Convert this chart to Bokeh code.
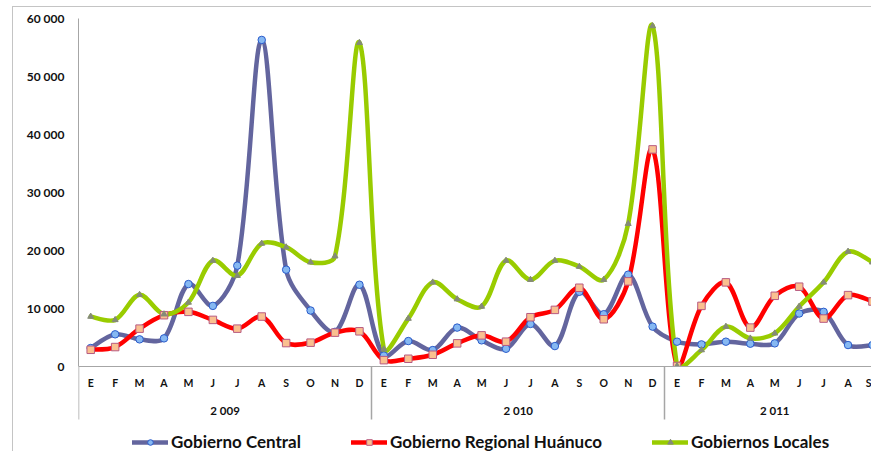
import numpy as np
from bokeh.plotting import figure
from bokeh.models import (Range1d, LinearAxis, FixedTicker, Legend, LegendItem,
                          ColumnDataSource, BoxAnnotation)
from bokeh.embed import file_html
from bokeh.resources import INLINE

# ---------------- data ----------------
months = ["E", "F", "M", "A", "M", "J", "J", "A", "S", "O", "N", "D",
          "E", "F", "M", "A", "M", "J", "J", "A", "S", "O", "N", "D",
          "E", "F", "M", "A", "M", "J", "J", "A", "S"]
years = ["2 009", "2 010", "2 011"]
months_per_year = [12, 12, 9]

y_ticks = [0, 10000, 20000, 30000, 40000, 50000, 60000]
y_tick_labels = ["0", "10 000", "20 000", "30 000", "40 000", "50 000", "60 000"]

series_names = ["Gobierno Central", "Gobierno Regional Huánuco", "Gobiernos Locales"]

gobierno_central = [3100, 5470, 4600, 4770, 14150, 10380, 17330, 56300, 16630, 9580, 5900, 14030,
                    1800, 4310, 2750, 6630, 4430, 2980, 7260, 3440, 12810, 8940, 15770, 6800,
                    4200, 3730, 4200, 3850, 3910, 9060, 9350, 3620, 3620]
gobierno_regional = [2800, 3270, 6450, 8770, 9350, 7960, 6450, 8540, 3960, 4030, 5760, 5990,
                     1010, 1250, 1940, 3910, 5290, 4200, 8420, 9690, 13510, 8070, 14610, 37400,
                     0, 10380, 14440, 6630, 12120, 13690, 8190, 12240, 11140]
gobiernos_locales = [8540, 7960, 12300, 8940, 10970, 18200, 15590, 21150, 20510, 17910, 18950, 55800,
                     2900, 8190, 14440, 11540, 10270, 18200, 14900, 18200, 17160, 14900, 24560, 58700,
                     0, 2750, 6800, 4770, 5640, 10270, 14440, 19760, 17910]

# ---------------- layout constants ----------------
FONT = "Lato"
GRAY = "#A6A6A6"
W, H = 859, 445
LEFT, TOP = 65, 11
PLOT_H = 347.5          # pixels between 0 and 60 000
Y_MAX = 60000
frame_h = H - TOP
y_min = -Y_MAX * (frame_h - PLOT_H) / PLOT_H   # room below zero for the category axis and legend
px_x = 24.43            # pixels per month
X_MIN = -0.5
frame_w = W - LEFT
X_MAX = X_MIN + frame_w / px_x
px_y = PLOT_H / Y_MAX

n = len(months)
xs = np.arange(n, dtype=float)

p = figure(width=W, height=H,
           x_range=Range1d(X_MIN, X_MAX), y_range=Range1d(y_min, Y_MAX),
           output_backend="svg", toolbar_location=None,
           x_axis_location=None, y_axis_location="left",
           min_border_left=LEFT, min_border_right=0, min_border_top=TOP, min_border_bottom=0)
p.margin = (6, 0, 0, 12)
p.styles = {"border-top": "1px solid #C4C4C4", "border-left": "1px solid #C4C4C4"}
p.outline_line_color = None
p.xgrid.visible = False
p.ygrid.visible = False
p.background_fill_color = "white"
p.border_fill_color = "white"

# y axis
ya = p.yaxis[0]
ya.ticker = FixedTicker(ticks=y_ticks, minor_ticks=[])
ya.bounds = (0, Y_MAX)
ya.major_label_overrides = {float(t): l for t, l in zip(y_ticks, y_tick_labels)}
ya.major_tick_line_color = None
ya.minor_tick_line_color = None
ya.major_tick_out = 0
ya.major_tick_in = 0
ya.axis_line_color = GRAY
ya.major_label_standoff = 14
ya.major_label_text_font = FONT
ya.major_label_text_font_style = "bold"
ya.major_label_text_font_size = "12px"
ya.major_label_text_color = "#111111"


def smooth_segments(x, y):
    # Bezier segments with tangents scaled by neighbouring (screen) segment lengths
    x = np.asarray(x, float)
    y = np.asarray(y, float)
    m = len(x)

    def dist(a, b):
        return np.hypot((x[b] - x[a]) * px_x, (y[b] - y[a]) * px_y)

    d = dict(x0=[], y0=[], x1=[], y1=[], cx0=[], cy0=[], cx1=[], cy1=[])
    for i in range(m - 1):
        i0 = max(i - 1, 0)
        i3 = min(i + 2, m - 1)
        d01, d12, d23 = dist(i0, i), dist(i, i + 1), dist(i + 1, i3)
        f1 = d12 / (3.0 * (d01 + d12)) if i > 0 else 1 / 6.0
        f2 = d12 / (3.0 * (d12 + d23)) if i + 2 < m else 1 / 6.0
        d["x0"].append(x[i]); d["y0"].append(y[i])
        d["x1"].append(x[i + 1]); d["y1"].append(y[i + 1])
        d["cx0"].append(x[i] + (x[i + 1] - x[i0]) * f1)
        d["cy0"].append(y[i] + (y[i + 1] - y[i0]) * f1)
        d["cx1"].append(x[i + 1] - (x[i3] - x[i]) * f2)
        d["cy1"].append(y[i + 1] - (y[i3] - y[i]) * f2)
    return ColumnDataSource(d)


styles = [
    dict(vals=gobierno_central, color="#63659E", marker="circle", fill="#86B8F2", edge="#2A5BCB", size=7.5),
    dict(vals=gobierno_regional, color="#FF0000", marker="square", fill="#FAC090", edge="#B85A80", size=7.5),
    dict(vals=gobiernos_locales, color="#99CC00", marker="triangle", fill="#858B78", edge="#858B78", size=6),
]

lines = []
for st in styles:
    src = smooth_segments(xs, st["vals"])
    b = p.bezier(x0="x0", y0="y0", x1="x1", y1="y1", cx0="cx0", cy0="cy0", cx1="cx1", cy1="cy1",
                 source=src, line_color=st["color"], line_width=4.5, line_cap="round", line_join="round")
    lines.append(b)

# clip the curves at the category axis (white mask below zero)
mask = BoxAnnotation(top=0, bottom=y_min, fill_color="white", fill_alpha=1.0,
                     line_color=None, level="glyph")
p.add_layout(mask)

items = []
for name, st, b in zip(series_names, styles, lines):
    s = p.scatter(xs, st["vals"], marker=st["marker"], size=st["size"],
                  fill_color=st["fill"], line_color=st["edge"], line_width=1)
    items.append(LegendItem(label=name, renderers=[b, s]))

# month axis (fixed at zero)
ax_m = LinearAxis(fixed_location=0,
                  ticker=FixedTicker(ticks=list(range(n)), minor_ticks=[]),
                  major_label_overrides={float(i): m for i, m in enumerate(months)},
                  major_tick_line_color=None, major_tick_out=0, major_tick_in=0,
                  minor_tick_line_color=None, minor_tick_out=0, minor_tick_in=0,
                  axis_line_color=GRAY, axis_line_width=1.2,
                  major_label_standoff=11,
                  major_label_text_font=FONT, major_label_text_font_style="bold",
                  major_label_text_font_size="10.5px", major_label_text_color="#111111")
p.add_layout(ax_m, "below")

# year axis (fixed at zero): labels at group centres, separators as long minor ticks
bounds = [-0.5]
acc = 0
for c in months_per_year[:-1]:
    acc += c
    bounds.append(acc - 0.5)
year_pos = []
start = 0
for c in months_per_year:
    year_pos.append(start + (c - 1) / 2.0)
    start += c
ax_y = LinearAxis(fixed_location=0,
                  ticker=FixedTicker(ticks=year_pos, minor_ticks=bounds),
                  major_label_overrides={float(v): y for v, y in zip(year_pos, years)},
                  major_tick_line_color=None, major_tick_out=0, major_tick_in=0,
                  minor_tick_line_color=GRAY, minor_tick_line_width=1.5,
                  minor_tick_in=0, minor_tick_out=53,
                  axis_line_color=None,
                  major_label_standoff=-15,
                  major_label_text_font=FONT, major_label_text_font_style="bold",
                  major_label_text_font_size="11.5px", major_label_text_color="#111111")
p.add_layout(ax_y, "below")

legend = Legend(items=items, orientation="horizontal", location=(54, 0),
                border_line_color=None, background_fill_alpha=0,
                padding=0, margin=0, spacing=50, glyph_width=36, glyph_height=14,
                label_height=14, label_standoff=3,
                label_text_font=FONT, label_text_font_style="bold",
                label_text_font_size="17px", label_text_color="#111111")
p.add_layout(legend, "center")

open("out.html", "w").write(file_html(p, INLINE))
